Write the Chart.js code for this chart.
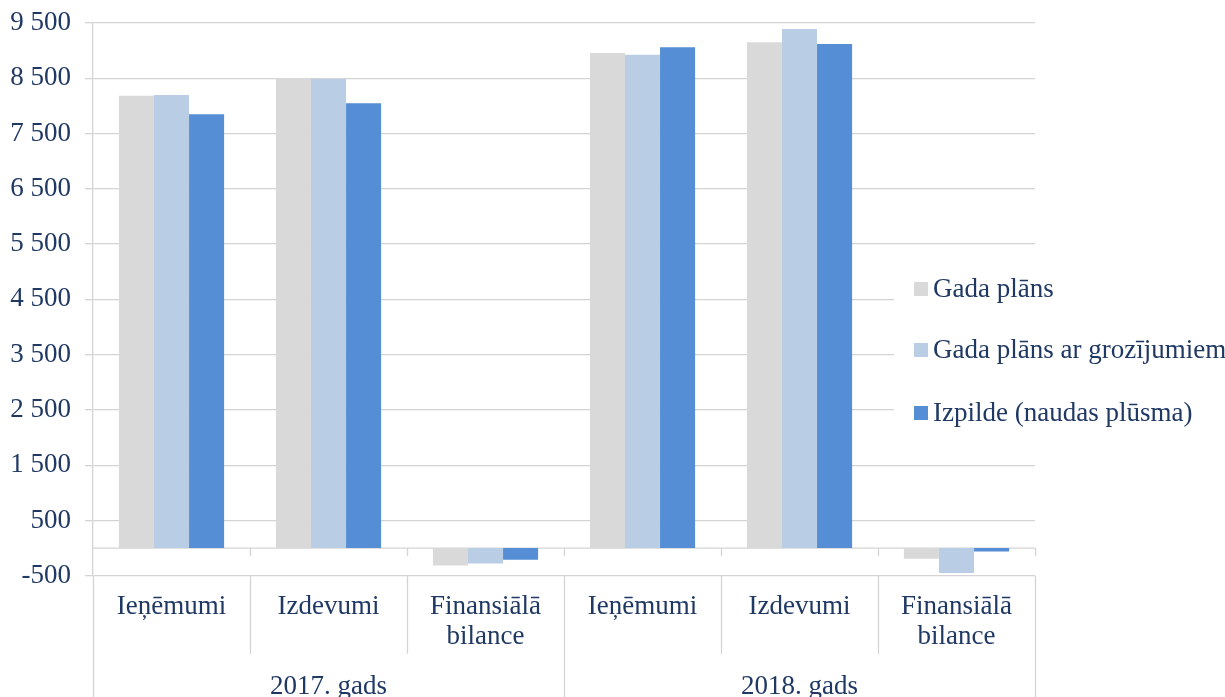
<!DOCTYPE html>
<html>
<head>
<meta charset="utf-8">
<script src="https://cdn.jsdelivr.net/npm/chart.js@4.4.1/dist/chart.umd.min.js"></script>
<style>
  body { margin: 0; background: #fff; }
  #wrap { width: 1225px; height: 697px; }
</style>
</head>
<body>
<div id="wrap"><canvas id="budgetChart" width="1225" height="697"></canvas></div>
<script>
// categories (two-level axis)
const categories = [['Ieņēmumi'], ['Izdevumi'], ['Finansiālā', 'bilance'], ['Ieņēmumi'], ['Izdevumi'], ['Finansiālā', 'bilance']];
const years = ['2017. gads', '2018. gads'];

// series values
const gadaPlans = [8184, 8504, -315, 8957, 9150, -193];
const gadaPlansGroz = [8197, 8487, -278, 8926, 9391, -452];
const izpilde = [7848, 8047, -212, 9060, 9119, -61];

const seriesNames = ['Gada plāns', 'Gada plāns ar grozījumiem', 'Izpilde (naudas plūsma)'];

const FONT = "'Times New Roman', 'Liberation Serif', serif";
const TEXT = '#1f3864';
const LINE = '#d4d4d4';

function fmt(v) {
  return String(v).replace(/\B(?=(\d{3})+(?!\d))/g, ' ');
}

// zero line, category separators and the overlay legend
const axisDecor = {
  id: 'axisDecor',
  beforeDatasetsDraw(chart) {
    const { ctx, chartArea, scales } = chart;
    const y0 = scales.y.getPixelForValue(0);
    ctx.save();
    ctx.strokeStyle = LINE;
    ctx.lineWidth = 1.3;
    ctx.beginPath();
    ctx.moveTo(chartArea.left, y0);
    ctx.lineTo(chartArea.right, y0);
    ctx.stroke();
    ctx.restore();
  },
  afterDraw(chart) {
    const { ctx, chartArea, scales } = chart;
    const xs = scales.x;
    const y0 = scales.y.getPixelForValue(0);
    const half = (xs.getPixelForValue(1) - xs.getPixelForValue(0)) / 2;
    ctx.save();
    ctx.strokeStyle = LINE;
    ctx.lineWidth = 1.3;
    ctx.beginPath();
    for (let i = 0; i <= categories.length; i++) {
      const xb = Math.round(xs.getPixelForValue(0) - half + i * 2 * half) + 0.5;
      if (i > 0) {
        ctx.moveTo(xb, y0);
        ctx.lineTo(xb, y0 + 8);
      }
      const groupEdge = i % 3 === 0;
      ctx.moveTo(xb, chartArea.bottom);
      ctx.lineTo(xb, groupEdge ? chart.height : chartArea.bottom + 78);
    }
    ctx.stroke();

    // legend sitting over the plot, white background hides the grid
    ctx.fillStyle = '#fff';
    ctx.fillRect(894, 262, chart.width - 894, 178);
    const rows = [289, 350, 413];
    ctx.font = '27px ' + FONT;
    ctx.textBaseline = 'middle';
    ctx.textAlign = 'left';
    chart.data.datasets.forEach((ds, i) => {
      ctx.fillStyle = ds.backgroundColor;
      ctx.fillRect(914, rows[i] - 7, 14, 14);
      ctx.fillStyle = TEXT;
      ctx.fillText(ds.label, 933, rows[i] + 1);
    });
    ctx.restore();
  }
};

new Chart(document.getElementById('budgetChart'), {
  type: 'bar',
  data: {
    labels: categories,
    datasets: [
      { label: seriesNames[0], data: gadaPlans, backgroundColor: '#d9d9d9' },
      { label: seriesNames[1], data: gadaPlansGroz, backgroundColor: '#b9cde5' },
      { label: seriesNames[2], data: izpilde, backgroundColor: '#558ed5' }
    ]
  },
  options: {
    responsive: false,
    animation: false,
    devicePixelRatio: 1,
    layout: { padding: { top: 23, right: 190, left: 0, bottom: 0 } },
    datasets: { bar: { barPercentage: 1, categoryPercentage: 0.67, borderWidth: 0 } },
    plugins: { legend: { display: false }, tooltip: { enabled: false } },
    scales: {
      y: {
        min: -500,
        max: 9500,
        ticks: {
          stepSize: 1000,
          padding: 14,
          color: TEXT,
          font: { family: FONT, size: 27 },
          callback: (v) => fmt(v)
        },
        grid: { color: LINE, lineWidth: 1.3, tickLength: 8 },
        border: { display: true, color: LINE, width: 1.3 },
        afterFit: (s) => { s.width = 93; s.paddingTop = 0; s.paddingBottom = 0; }
      },
      x: {
        weight: 0,
        grid: { display: false, drawTicks: false },
        border: { display: false },
        ticks: {
          padding: 16,
          color: TEXT,
          maxRotation: 0,
          autoSkip: false,
          font: { family: FONT, size: 27, lineHeight: 1.12 }
        },
        afterFit: (s) => { s.height = 80; }
      },
      x2: {
        type: 'category',
        position: 'bottom',
        weight: 1,
        labels: years,
        grid: { display: false, drawTicks: false },
        border: { display: false },
        ticks: {
          padding: 16,
          color: TEXT,
          maxRotation: 0,
          font: { family: FONT, size: 27, lineHeight: 1.12 }
        },
        afterFit: (s) => { s.height = 41.3; }
      }
    }
  },
  plugins: [axisDecor]
});
</script>
</body>
</html>
